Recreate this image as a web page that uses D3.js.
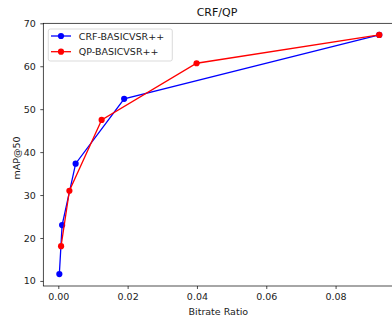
<!DOCTYPE html>
<html><head><meta charset="utf-8">
<script src="https://cdn.jsdelivr.net/npm/d3@7"></script>
<style>body{margin:0;background:#fff}svg{display:block;font-family:"DejaVu Sans",sans-serif}</style>
</head><body>
<script>
const title = "CRF/QP";
const xLabel = "Bitrate Ratio";
const yLabel = "mAP@50";
const seriesNames = ["CRF-BASICVSR++", "QP-BASICVSR++"];
const seriesColors = ["#0000ff", "#ff0000"];
const crfX = [0.0003, 0.0011, 0.0050, 0.0190, 0.0926];
const crfY = [11.6, 23.0, 37.3, 52.4, 67.3];
const qpX = [0.0008, 0.0032, 0.0125, 0.0399, 0.0926];
const qpY = [18.1, 31.0, 47.5, 60.7, 67.3];
const xTicks = [0.00, 0.02, 0.04, 0.06, 0.08];
const yTicks = [10, 20, 30, 40, 50, 60, 70];

const W = 392, H = 322;
const L = 43.3, R = 395.2, T = 23.3, B = 286;
const svg = d3.select("body").append("svg").attr("width", W).attr("height", H);
const x = d3.scaleLinear().domain([-0.00433, 0.0972]).range([L, R]);
const y = d3.scaleLinear().domain([8.82, 70]).range([B, T]);
const fs = 9.5;

const xAxis = svg.append("g").attr("transform", `translate(0,${B})`)
  .call(d3.axisBottom(x).tickValues(xTicks).tickFormat(d3.format(".2f")).tickSize(3).tickPadding(4));
const yAxis = svg.append("g").attr("transform", `translate(${L},0)`)
  .call(d3.axisLeft(y).tickValues(yTicks).tickFormat(d3.format("d")).tickSize(3).tickPadding(4.5));
[xAxis, yAxis].forEach(g => {
  g.select(".domain").remove();
  g.selectAll("line").attr("stroke", "#000").attr("stroke-width", 0.7);
  g.selectAll("text").attr("fill", "#222").style("font-size", fs + "px").style("font-family", "DejaVu Sans");
});
// spines
svg.append("rect").attr("x", L).attr("y", T).attr("width", R - L).attr("height", B - T)
  .attr("fill", "none").attr("stroke", "#000").attr("stroke-width", 0.7);

const data = [
  crfX.map((v, i) => [v, crfY[i]]),
  qpX.map((v, i) => [v, qpY[i]])
];
const line = d3.line().x(d => x(d[0])).y(d => y(d[1]));
data.forEach((pts, k) => {
  const g = svg.append("g");
  g.append("path").attr("d", line(pts)).attr("fill", "none")
    .attr("stroke", seriesColors[k]).attr("stroke-width", 1.3);
  g.selectAll("circle").data(pts).join("circle")
    .attr("cx", d => x(d[0])).attr("cy", d => y(d[1])).attr("r", 3.1)
    .attr("fill", seriesColors[k]);
});

// title & labels
svg.append("text").attr("x", 217).attr("y", 15.5).attr("text-anchor", "middle")
  .style("font-size", "11px").attr("fill", "#111").text(title);
svg.append("text").attr("x", 218.3).attr("y", 315).attr("text-anchor", "middle")
  .style("font-size", fs + "px").attr("fill", "#222").text(xLabel);
svg.append("text").attr("transform", "translate(19.5,158) rotate(-90)").attr("text-anchor", "middle")
  .style("font-size", fs + "px").attr("fill", "#222").text(yLabel);

// legend
const lg = svg.append("g");
lg.append("rect").attr("x", 48.3).attr("y", 29).attr("width", 124).attr("height", 32).attr("rx", 2)
  .attr("fill", "#fff").attr("fill-opacity", 0.8).attr("stroke", "#ccc").attr("stroke-width", 0.7);
seriesNames.forEach((n, i) => {
  const cy = 36 + i * 15.7;
  lg.append("line").attr("x1", 51).attr("x2", 71).attr("y1", cy).attr("y2", cy)
    .attr("stroke", seriesColors[i]).attr("stroke-width", 1.3);
  lg.append("circle").attr("cx", 61).attr("cy", cy).attr("r", 3.1).attr("fill", seriesColors[i]);
  lg.append("text").attr("x", 78.8).attr("y", cy + 3.5).style("font-size", fs + "px")
    .attr("fill", "#222").text(n);
});
</script>
</body></html>
